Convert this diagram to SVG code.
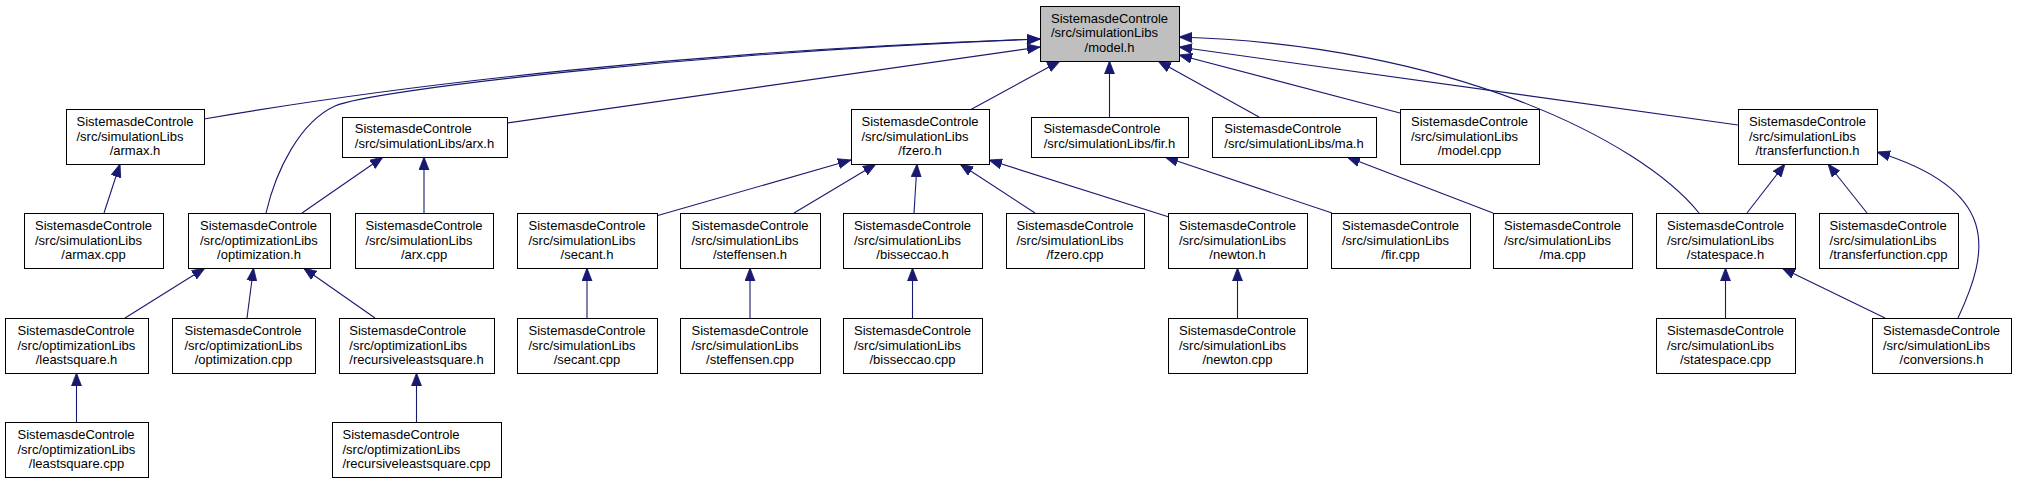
<svg xmlns="http://www.w3.org/2000/svg" width="2017" height="483" viewBox="0 0 2017 483">
<style>
.node rect{fill:#ffffff;stroke:#000000;stroke-width:1}
.root rect{fill:#bfbfbf}
text{font-family:"Liberation Sans",Arial,Helvetica,sans-serif;font-size:13px;fill:#000000}
.m{text-anchor:middle}
.edges path{fill:none;stroke:#191970;stroke-width:1.1;marker-end:url(#ah)}
</style>
<defs>
<marker id="ah" markerUnits="userSpaceOnUse" markerWidth="14" markerHeight="11" refX="13" refY="5" orient="auto" viewBox="0 0 14 10">
<path d="M0,0 L13,5 L0,10 z" fill="#191970" stroke="#191970" stroke-width="0.8"/>
</marker>
</defs>
<rect x="0" y="0" width="2017" height="483" fill="#ffffff"/>
<g class="edges">
<path d="M204,119 C400,85 700,50 1040,39"/>
<path d="M266,213 C276,170 300,122 335,106 C370,90 700,52 1040,39"/>
<path d="M507,123 L1040,47"/>
<path d="M970,110 L1060,61"/>
<path d="M1109.5,117 L1109.5,61"/>
<path d="M1259,117 L1158,61"/>
<path d="M1400,113 L1179,55"/>
<path d="M1738,125 L1179,47"/>
<path d="M1699,213 C1640,140 1450,45 1179,37"/>
<path d="M104,213 L120,164"/>
<path d="M302,213 L383,157"/>
<path d="M424,213 L424,157"/>
<path d="M125,318 L205,268"/>
<path d="M247,318 L253.5,268"/>
<path d="M375,318 L303.5,268"/>
<path d="M76.5,422 L76.5,373"/>
<path d="M416.5,422 L416.5,373"/>
<path d="M656,216 L851,160"/>
<path d="M794,213 L876,164"/>
<path d="M914,213 L917,164"/>
<path d="M1035,213 L960,164"/>
<path d="M1169,217 L989,160"/>
<path d="M587,318 L587,268"/>
<path d="M750,318 L750,268"/>
<path d="M912.5,318 L912.5,268"/>
<path d="M1237.5,318 L1237.5,268"/>
<path d="M1332,213 L1165,157"/>
<path d="M1493,213 L1347,157"/>
<path d="M1747,213 L1785,164"/>
<path d="M1867,213 L1828,164"/>
<path d="M1958,318 C1990,250 2000,190 1877,152"/>
<path d="M1725.5,318 L1725.5,268"/>
<path d="M1885,318 L1782,268"/>
</g>
<g id="model_h" class="node root"><rect x="1040.5" y="6.5" width="139" height="55"/><text><tspan x="1051" y="22.5">SistemasdeControle</tspan><tspan x="1051" y="37">/src/simulationLibs</tspan><tspan class="m" x="1109.5" y="51.5">/model.h</tspan></text></g>
<g id="armax_h" class="node"><rect x="66.5" y="109.5" width="138" height="55"/><text><tspan x="76.5" y="126">SistemasdeControle</tspan><tspan x="76.5" y="140.5">/src/simulationLibs</tspan><tspan class="m" x="135" y="155">/armax.h</tspan></text></g>
<g id="arx_h" class="node"><rect x="342.5" y="117.5" width="165" height="40"/><text><tspan x="354.8" y="133">SistemasdeControle</tspan><tspan class="m" x="424.5" y="147.5">/src/simulationLibs/arx.h</tspan></text></g>
<g id="fzero_h" class="node"><rect x="851.5" y="109.5" width="138" height="55"/><text><tspan x="861.5" y="126">SistemasdeControle</tspan><tspan x="861.5" y="140.5">/src/simulationLibs</tspan><tspan class="m" x="920" y="155">/fzero.h</tspan></text></g>
<g id="fir_h" class="node"><rect x="1031.5" y="117.5" width="157" height="40"/><text><tspan x="1043.4" y="133">SistemasdeControle</tspan><tspan class="m" x="1109.5" y="147.5">/src/simulationLibs/fir.h</tspan></text></g>
<g id="ma_h" class="node"><rect x="1212.5" y="117.5" width="164" height="40"/><text><tspan x="1224.3" y="133">SistemasdeControle</tspan><tspan class="m" x="1294" y="147.5">/src/simulationLibs/ma.h</tspan></text></g>
<g id="model_cpp" class="node"><rect x="1400.5" y="109.5" width="139" height="55"/><text><tspan x="1411" y="126">SistemasdeControle</tspan><tspan x="1411" y="140.5">/src/simulationLibs</tspan><tspan class="m" x="1469.5" y="155">/model.cpp</tspan></text></g>
<g id="transferfunction_h" class="node"><rect x="1738.5" y="109.5" width="139" height="55"/><text><tspan x="1749" y="126">SistemasdeControle</tspan><tspan x="1749" y="140.5">/src/simulationLibs</tspan><tspan class="m" x="1807.5" y="155">/transferfunction.h</tspan></text></g>
<g id="armax_cpp" class="node"><rect x="24.5" y="213.5" width="139" height="55"/><text><tspan x="35" y="230">SistemasdeControle</tspan><tspan x="35" y="244.5">/src/simulationLibs</tspan><tspan class="m" x="93.5" y="259">/armax.cpp</tspan></text></g>
<g id="optimization_h" class="node"><rect x="188.5" y="213.5" width="142" height="55"/><text><tspan x="200" y="230">SistemasdeControle</tspan><tspan x="200" y="244.5">/src/optimizationLibs</tspan><tspan class="m" x="259" y="259">/optimization.h</tspan></text></g>
<g id="arx_cpp" class="node"><rect x="355.5" y="213.5" width="138" height="55"/><text><tspan x="365.5" y="230">SistemasdeControle</tspan><tspan x="365.5" y="244.5">/src/simulationLibs</tspan><tspan class="m" x="424" y="259">/arx.cpp</tspan></text></g>
<g id="secant_h" class="node"><rect x="517.5" y="213.5" width="140" height="55"/><text><tspan x="528.5" y="230">SistemasdeControle</tspan><tspan x="528.5" y="244.5">/src/simulationLibs</tspan><tspan class="m" x="587" y="259">/secant.h</tspan></text></g>
<g id="steffensen_h" class="node"><rect x="680.5" y="213.5" width="140" height="55"/><text><tspan x="691.5" y="230">SistemasdeControle</tspan><tspan x="691.5" y="244.5">/src/simulationLibs</tspan><tspan class="m" x="750" y="259">/steffensen.h</tspan></text></g>
<g id="bisseccao_h" class="node"><rect x="843.5" y="213.5" width="139" height="55"/><text><tspan x="854" y="230">SistemasdeControle</tspan><tspan x="854" y="244.5">/src/simulationLibs</tspan><tspan class="m" x="912.5" y="259">/bisseccao.h</tspan></text></g>
<g id="fzero_cpp" class="node"><rect x="1006.5" y="213.5" width="138" height="55"/><text><tspan x="1016.5" y="230">SistemasdeControle</tspan><tspan x="1016.5" y="244.5">/src/simulationLibs</tspan><tspan class="m" x="1075" y="259">/fzero.cpp</tspan></text></g>
<g id="newton_h" class="node"><rect x="1168.5" y="213.5" width="139" height="55"/><text><tspan x="1179" y="230">SistemasdeControle</tspan><tspan x="1179" y="244.5">/src/simulationLibs</tspan><tspan class="m" x="1237.5" y="259">/newton.h</tspan></text></g>
<g id="fir_cpp" class="node"><rect x="1331.5" y="213.5" width="139" height="55"/><text><tspan x="1342" y="230">SistemasdeControle</tspan><tspan x="1342" y="244.5">/src/simulationLibs</tspan><tspan class="m" x="1400.5" y="259">/fir.cpp</tspan></text></g>
<g id="ma_cpp" class="node"><rect x="1493.5" y="213.5" width="139" height="55"/><text><tspan x="1504" y="230">SistemasdeControle</tspan><tspan x="1504" y="244.5">/src/simulationLibs</tspan><tspan class="m" x="1562.5" y="259">/ma.cpp</tspan></text></g>
<g id="statespace_h" class="node"><rect x="1656.5" y="213.5" width="139" height="55"/><text><tspan x="1667" y="230">SistemasdeControle</tspan><tspan x="1667" y="244.5">/src/simulationLibs</tspan><tspan class="m" x="1725.5" y="259">/statespace.h</tspan></text></g>
<g id="transferfunction_cpp" class="node"><rect x="1819.5" y="213.5" width="139" height="55"/><text><tspan x="1829.6" y="230">SistemasdeControle</tspan><tspan x="1829.6" y="244.5">/src/simulationLibs</tspan><tspan class="m" x="1888.5" y="259">/transferfunction.cpp</tspan></text></g>
<g id="leastsquare_h" class="node"><rect x="5.5" y="318.5" width="143" height="55"/><text><tspan x="17.5" y="335">SistemasdeControle</tspan><tspan x="17.5" y="349.5">/src/optimizationLibs</tspan><tspan class="m" x="76.5" y="364">/leastsquare.h</tspan></text></g>
<g id="optimization_cpp" class="node"><rect x="172.5" y="318.5" width="143" height="55"/><text><tspan x="184.5" y="335">SistemasdeControle</tspan><tspan x="184.5" y="349.5">/src/optimizationLibs</tspan><tspan class="m" x="243.5" y="364">/optimization.cpp</tspan></text></g>
<g id="recursiveleastsquare_h" class="node"><rect x="339.5" y="318.5" width="155" height="55"/><text><tspan x="349.3" y="335">SistemasdeControle</tspan><tspan x="349.3" y="349.5">/src/optimizationLibs</tspan><tspan class="m" x="416.5" y="364">/recursiveleastsquare.h</tspan></text></g>
<g id="secant_cpp" class="node"><rect x="517.5" y="318.5" width="140" height="55"/><text><tspan x="528.5" y="335">SistemasdeControle</tspan><tspan x="528.5" y="349.5">/src/simulationLibs</tspan><tspan class="m" x="587" y="364">/secant.cpp</tspan></text></g>
<g id="steffensen_cpp" class="node"><rect x="680.5" y="318.5" width="140" height="55"/><text><tspan x="691.5" y="335">SistemasdeControle</tspan><tspan x="691.5" y="349.5">/src/simulationLibs</tspan><tspan class="m" x="750" y="364">/steffensen.cpp</tspan></text></g>
<g id="bisseccao_cpp" class="node"><rect x="843.5" y="318.5" width="139" height="55"/><text><tspan x="854" y="335">SistemasdeControle</tspan><tspan x="854" y="349.5">/src/simulationLibs</tspan><tspan class="m" x="912.5" y="364">/bisseccao.cpp</tspan></text></g>
<g id="newton_cpp" class="node"><rect x="1168.5" y="318.5" width="139" height="55"/><text><tspan x="1179" y="335">SistemasdeControle</tspan><tspan x="1179" y="349.5">/src/simulationLibs</tspan><tspan class="m" x="1237.5" y="364">/newton.cpp</tspan></text></g>
<g id="statespace_cpp" class="node"><rect x="1656.5" y="318.5" width="139" height="55"/><text><tspan x="1667" y="335">SistemasdeControle</tspan><tspan x="1667" y="349.5">/src/simulationLibs</tspan><tspan class="m" x="1725.5" y="364">/statespace.cpp</tspan></text></g>
<g id="conversions_h" class="node"><rect x="1872.5" y="318.5" width="139" height="55"/><text><tspan x="1883" y="335">SistemasdeControle</tspan><tspan x="1883" y="349.5">/src/simulationLibs</tspan><tspan class="m" x="1941.5" y="364">/conversions.h</tspan></text></g>
<g id="leastsquare_cpp" class="node"><rect x="5.5" y="422.5" width="143" height="55"/><text><tspan x="17.5" y="439">SistemasdeControle</tspan><tspan x="17.5" y="453.5">/src/optimizationLibs</tspan><tspan class="m" x="76.5" y="468">/leastsquare.cpp</tspan></text></g>
<g id="recursiveleastsquare_cpp" class="node"><rect x="332.5" y="422.5" width="169" height="55"/><text><tspan x="342.5" y="439">SistemasdeControle</tspan><tspan x="342.5" y="453.5">/src/optimizationLibs</tspan><tspan class="m" x="416.5" y="468">/recursiveleastsquare.cpp</tspan></text></g>
</svg>
